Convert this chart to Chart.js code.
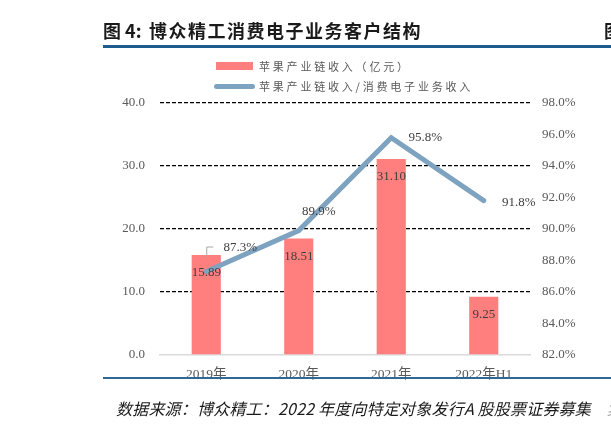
<!DOCTYPE html>
<html>
<head>
<meta charset="utf-8">
<script src="https://cdn.jsdelivr.net/npm/chart.js@4"></script>
<style>
  html, body { margin: 0; padding: 0; background: #fff; }
  #wrap { position: relative; width: 611px; height: 429px; overflow: hidden; }
  #c { position: absolute; left: 0; top: 0; }
  .abs { position: absolute; white-space: nowrap; }
  .ttl { top: 19px; font-family: "Noto Sans CJK SC", sans-serif; font-weight: bold; font-size: 18px; color: #1a1a1a; line-height: 22px; }
  #tline { left: 103px; top: 45px; width: 508px; height: 3px; background: #1F5C8E; }
  #bline { left: 103px; top: 377px; width: 508px; height: 2px; background: #2F6897; }
  .leg { font-family: "Noto Sans CJK SC", sans-serif; font-size: 11px; letter-spacing: 2.8px; color: #595959; line-height: 14px; }
  #src { left: 116px; top: 398px; font-family: "Noto Sans CJK SC", sans-serif; font-style: italic; font-size: 16px; letter-spacing: 0.2px; color: #1a1a1a; line-height: 20px; }
  #src2 { left: 607px; top: 398px; font-family: "Noto Sans CJK SC", sans-serif; font-style: italic; font-size: 16px; color: #999; line-height: 20px; }
</style>
</head>
<body>
<div id="wrap">
  <canvas id="c" width="611" height="429"></canvas>
  <div class="abs ttl" style="left:103px;">图 4:</div>
  <div class="abs ttl" style="left:149px;letter-spacing:1.5px;">博众精工消费电子业务客户结构</div>
  <div class="abs ttl" style="left:604px;">图</div>
  <div class="abs" id="tline"></div>
  <div class="abs" style="left:216px;top:62px;width:37px;height:8px;background:#FF7F7F;"></div>
  <div class="abs leg" style="left:259px;top:59px;">苹果产业链收入（亿元）</div>
  <div class="abs" style="left:214px;top:84px;width:41px;height:5px;border-radius:3px;background:#7DA3C0;"></div>
  <div class="abs leg" style="left:259px;top:79px;">苹果产业链收入/消费电子业务收入</div>
  <div class="abs" id="bline"></div>
  <div class="abs" id="src">数据来源：博众精工：2022 年度向特定对象发行A 股股票证券募集</div>
  <div class="abs" id="src2">集</div>
</div>
<script>
// ---- data ----
const categories = ['2019年', '2020年', '2021年', '2022年H1'];
const appleRevenue = [15.89, 18.51, 31.10, 9.25];      // 亿元
const appleShare = [87.3, 89.9, 95.8, 91.8];            // %
const leftTicks = [0, 10, 20, 30, 40];
const rightTicks = [82, 84, 86, 88, 90, 92, 94, 96, 98];

const serif = '"Liberation Serif", "Noto Sans CJK SC", serif';

const labelPlugin = {
  id: 'valueLabels',
  afterDatasetsDraw(chart) {
    const ctx = chart.ctx;
    ctx.save();
    ctx.font = '13px ' + serif;
    ctx.fillStyle = '#404040';
    ctx.textAlign = 'center';
    ctx.textBaseline = 'middle';
    const barMeta = chart.getDatasetMeta(0);
    barMeta.data.forEach((el, i) => {
      ctx.fillText(appleRevenue[i].toFixed(2), el.x, el.y + 18);
    });
    const lineMeta = chart.getDatasetMeta(1);
    const offs = [[34, -24], [20, -19], [34, 0], [35, 2]];
    lineMeta.data.forEach((el, i) => {
      ctx.fillText(appleShare[i].toFixed(1) + '%', el.x + offs[i][0], el.y + offs[i][1]);
    });
    // leader line for first point label
    const p0 = lineMeta.data[0];
    ctx.strokeStyle = '#A6A6A6';
    ctx.lineWidth = 1;
    ctx.beginPath();
    ctx.moveTo(p0.x + 0.5, p0.y - 14);
    ctx.lineTo(p0.x + 0.5, p0.y - 24.5);
    ctx.lineTo(p0.x + 7, p0.y - 24.5);
    ctx.stroke();
    ctx.restore();
  }
};

new Chart(document.getElementById('c'), {
  type: 'bar',
  data: {
    labels: categories,
    datasets: [
      {
        type: 'bar',
        label: '苹果产业链收入（亿元）',
        data: appleRevenue,
        backgroundColor: '#FF7F7F',
        yAxisID: 'y',
        categoryPercentage: 1,
        barPercentage: 0.315,
        order: 2
      },
      {
        type: 'line',
        label: '苹果产业链收入/消费电子业务收入',
        data: appleShare,
        borderColor: '#7DA3C0',
        borderWidth: 5,
        pointRadius: 0,
        tension: 0,
        borderCapStyle: 'round',
        borderJoinStyle: 'miter',
        yAxisID: 'y1',
        order: 1
      }
    ]
  },
  options: {
    responsive: false,
    animation: false,
    devicePixelRatio: 1,
    layout: { padding: { left: 100, right: 21, top: 103, bottom: 44 } },
    plugins: { legend: { display: false }, tooltip: { enabled: false }, title: { display: false } },
    scales: {
      x: {
        grid: { display: false },
        border: { display: true, color: '#D9D9D9', width: 1.5 },
        ticks: { font: { size: 13.5, family: serif }, color: '#595959', padding: 3 },
        afterFit(s) { s.height = 30; }
      },
      y: {
        position: 'left',
        min: 0, max: 40,
        afterBuildTicks(s) { s.ticks = leftTicks.map(v => ({ value: v })); },
        ticks: { font: { size: 13, family: serif }, color: '#595959', padding: 15,
                 callback: v => Number(v).toFixed(1) },
        grid: { drawTicks: false, lineWidth: 1.3,
                color: c => (c.tick && c.tick.value === 0) ? 'rgba(0,0,0,0)' : '#000000' },
        border: { display: false, dash: [4, 2] },
        afterFit(s) { s.width = 60; }
      },
      y1: {
        position: 'right',
        min: 82, max: 98,
        afterBuildTicks(s) { s.ticks = rightTicks.map(v => ({ value: v })); },
        ticks: { font: { size: 13, family: serif }, color: '#595959', padding: 12,
                 callback: v => Number(v).toFixed(1) + '%' },
        grid: { drawOnChartArea: false, drawTicks: false },
        border: { display: false },
        afterFit(s) { s.width = 60; }
      }
    }
  },
  plugins: [labelPlugin]
});
</script>
</body>
</html>
